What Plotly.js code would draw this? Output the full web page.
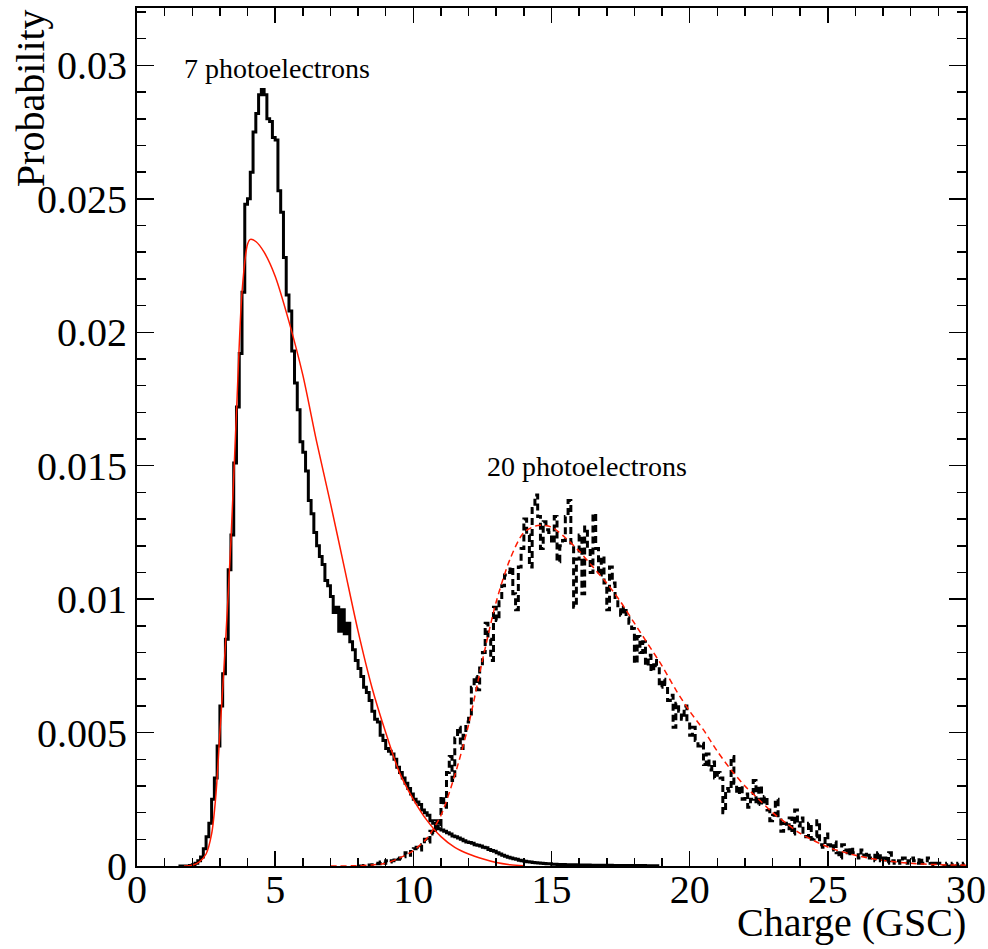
<!DOCTYPE html>
<html>
<head>
<meta charset="utf-8">
<script src="https://cdn.plot.ly/plotly-3.0.1.min.js"></script>
<style>html,body{margin:0;padding:0;background:#fff;}#chart{width:988px;height:949px;}</style>
</head>
<body>
<div id="chart"></div>
<script>
// ---------------- data ----------------
const binWidth = 0.1;

// 7 photoelectrons histogram (solid), bins of 0.1 starting at 1.5
const pe7Start = 1.5;
const pe7Values = [
  0, 0, 0, 0,
  0.00002, 0.00005, 0.0001, 0.0002, 0.00034, 0.00065, 0.0011, 0.0016, 0.0025, 0.0033,
  0.0045, 0.0060, 0.0072, 0.0085, 0.0111, 0.0124, 0.0151, 0.0172, 0.0192, 0.0215,
  0.0248, 0.0250, 0.0260, 0.0275, 0.0282, 0.0289, 0.0291, 0.0289, 0.0280, 0.0279,
  0.0273, 0.0272, 0.0253, 0.0245, 0.0228, 0.0214, 0.0208, 0.0193, 0.0181, 0.0171,
  0.0159, 0.0155, 0.0148, 0.0137, 0.0132, 0.0125, 0.0120, 0.0116, 0.0113, 0.0107,
  0.0105, 0.0101, 0.0095, 0.0097, 0.0088, 0.0096, 0.0087, 0.0091, 0.0084, 0.0081,
  0.0077, 0.0074, 0.0071, 0.0067, 0.0065, 0.0062, 0.0058, 0.0055, 0.0054, 0.0049,
  0.0047, 0.0044, 0.0043, 0.0042, 0.0040, 0.0037, 0.0035, 0.0033, 0.0031, 0.0029,
  0.0027, 0.0025, 0.0024, 0.0023, 0.0021, 0.0020, 0.0019, 0.0017, 0.0016, 0.0015,
  0.0014, 0.00135, 0.0013, 0.00125, 0.0012, 0.00112, 0.0011, 0.00105, 0.0010, 0.00095,
  0.0009, 0.00088, 0.00085, 0.0008, 0.00078, 0.00075, 0.0007, 0.00068, 0.00062, 0.00058,
  0.00055, 0.0005, 0.00045, 0.0004, 0.00037, 0.00033, 0.0003, 0.00027, 0.00025, 0.00022,
  0.0002, 0.00018, 0.00016, 0.00015, 0.00013, 0.00012, 0.00011, 0.0001, 0.00009, 0.00008,
  0.00008, 0.00007, 0.00007, 0.00006, 0.00006, 0.00006, 0.00005, 0.00005, 0.00005, 0.00005,
  0.00004, 0.00004, 0.00004, 0.00004, 0.00004, 0.00003, 0.00003, 0.00003, 0.00003, 0.00003,
  0.00003, 0.00003, 0.00003, 0.00002, 0.00002, 0.00002, 0.00002, 0.00002, 0.00002, 0.00002,
  0.00002, 0.00002, 0.00002, 0.00002, 0.00002, 0.00001, 0.00001, 0.00001, 0.00001, 0.00001
];

// 20 photoelectrons histogram (dashed), bins of 0.1 starting at 8.0
const pe20Start = 8.0;
const pe20Values = [
  0, 0, 0.00002, 0, 0.00004, 0.00005, 0.0001, 0.00008, 0.00015, 0.0001,
  0.0002, 0.00015, 0.0002, 0.0003, 0.00025, 0.0003, 0.00035, 0.0005, 0.0004, 0.0006,
  0.00065, 0.0007, 0.0006, 0.0008, 0.0010, 0.0009, 0.0013, 0.0012, 0.0017, 0.0015,
  0.0026, 0.0022, 0.0035, 0.0041, 0.0032, 0.0048, 0.0052, 0.0044, 0.0049, 0.0054,
  0.0056, 0.0067, 0.0071, 0.0066, 0.0075, 0.0080, 0.0091, 0.0085, 0.0077, 0.0097,
  0.0092, 0.0099, 0.0105, 0.0109, 0.0110, 0.0112, 0.0102, 0.0096, 0.0112, 0.0119,
  0.0130, 0.0124, 0.0112, 0.0134, 0.0139, 0.0131, 0.0119, 0.0129, 0.0126, 0.0125,
  0.0121, 0.0131, 0.0114, 0.0120, 0.0122, 0.0131, 0.0137, 0.0121, 0.0097, 0.0115,
  0.0124, 0.0102, 0.0127, 0.0119, 0.0110, 0.0132, 0.0119, 0.0109, 0.0116, 0.0106,
  0.0096, 0.0112, 0.0106, 0.0100, 0.0096, 0.0094, 0.0097, 0.0093, 0.0091, 0.0089,
  0.0076, 0.0086, 0.0080, 0.0084, 0.0075, 0.0079, 0.0073, 0.0077, 0.0075, 0.0067,
  0.0070, 0.0068, 0.0062, 0.0064, 0.0052, 0.0061, 0.0058, 0.0055, 0.0060, 0.0054,
  0.0049, 0.0052, 0.0047, 0.0045, 0.0046, 0.0038, 0.0042, 0.0036, 0.0039, 0.0033,
  0.0035, 0.0033, 0.0020, 0.0029, 0.0028, 0.0041, 0.0031, 0.0027, 0.0030, 0.0025,
  0.0027, 0.0022, 0.0025, 0.0032, 0.0023, 0.0030, 0.0023, 0.0026, 0.0021, 0.0017,
  0.0019, 0.0025, 0.0018, 0.0013, 0.0016, 0.0014, 0.0018, 0.0012, 0.0021, 0.0015,
  0.0018, 0.0012, 0.0011, 0.0016, 0.0010, 0.0011, 0.0017, 0.0008, 0.0007, 0.0012,
  0.0008, 0.0006, 0.0009, 0.0005, 0.0003, 0.0008, 0.0006, 0.0004, 0.0007, 0.0005,
  0.0005, 0.0003, 0.0006, 0.0004, 0.0005, 0.0003, 0.0004, 0.0002, 0.0005, 0.0002,
  0.0003, 0.0001, 0.0005, 0.0002, 0.0001, 0.0002, 0.0001, 0.0003, 0.0001, 0.0002,
  0.0003, 0.0002, 0.0001, 0.0003, 0.0001, 0.0001, 0.0003, 0.0001, 0.0000, 0.0001,
  0.0001, 0.0001, 0.0000, 0.0001, 0.0000, 0.0001, 0.0000, 0.0001, 0.0000, 0.0001
];

// fitted curves
const fit7X = [1.7, 2.0, 2.25, 2.5, 2.7, 2.85, 3.0, 3.2, 3.4, 3.6, 3.8, 4.0, 4.1, 4.3, 4.6, 5.0, 5.5, 6.0, 6.5, 7.0, 7.5, 8.0, 8.5, 9.0, 9.5, 10.0, 10.5, 11.0, 11.5, 12.0, 12.5, 13.0, 13.5, 14.0];
const fit7Y = [0, 0.00003, 0.00015, 0.00045, 0.0012, 0.0026, 0.0050, 0.0083, 0.0122, 0.0170, 0.0215, 0.0233, 0.02348, 0.0234, 0.0230, 0.0221, 0.0204, 0.0184, 0.0159, 0.0136, 0.0112, 0.0088, 0.0067, 0.0050, 0.0035, 0.0025, 0.0017, 0.0011, 0.0007, 0.00045, 0.00027, 0.00013, 0.00005, 0.00001];

const fit20X = [7, 8, 8.5, 9, 9.5, 10, 10.5, 11, 11.5, 12, 12.5, 13, 13.5, 14, 14.5, 15, 15.5, 16, 16.5, 17, 17.5, 18, 18.5, 19, 19.5, 20, 20.5, 21, 21.5, 22, 22.5, 23, 23.5, 24, 25, 26, 27, 28, 29, 30];
const fit20Y = [0, 0.00001, 0.00004, 0.0001, 0.0003, 0.00058, 0.00105, 0.0019, 0.0034, 0.0053, 0.0077, 0.0099, 0.0115, 0.0125, 0.01276, 0.0127, 0.0123, 0.0118, 0.0112, 0.0106, 0.0099, 0.0091, 0.0083, 0.0075, 0.0066, 0.0058, 0.0051, 0.0043, 0.0036, 0.0030, 0.0025, 0.0020, 0.0016, 0.00122, 0.00071, 0.0004, 0.00021, 0.0001, 0.00005, 0.00003];

const xTickVals = [0, 5, 10, 15, 20, 25, 30];
const yTickVals = [0, 0.005, 0.01, 0.015, 0.02, 0.025, 0.03];
const yTickText = ["0", "0.005", "0.01", "0.015", "0.02", "0.025", "0.03"];

const label7 = "7 photoelectrons";
const label20 = "20 photoelectrons";
const xTitle = "Charge (GSC)";
const yTitle = "Probability";

// ---------------- build step traces ----------------
function steps(start, vals) {
  const xs = [], ys = [];
  for (let i = 0; i < vals.length; i++) {
    xs.push(+(start + i * binWidth).toFixed(4));
    ys.push(vals[i]);
  }
  xs.push(+(start + vals.length * binWidth).toFixed(4));
  ys.push(vals[vals.length - 1]);
  return {xs, ys};
}
const h7 = steps(pe7Start, pe7Values);
const h20 = steps(pe20Start, pe20Values);

const FONT = "Liberation Serif, Times New Roman, serif";

const traces = [
  {x: h20.xs, y: h20.ys, type: 'scatter', mode: 'lines',
   line: {shape: 'hv', color: 'black', width: 3, dash: '7px,4px'}, hoverinfo: 'skip'},
  {x: h7.xs, y: h7.ys, type: 'scatter', mode: 'lines',
   line: {shape: 'hv', color: 'black', width: 3}, hoverinfo: 'skip'},
  {x: fit7X, y: fit7Y, type: 'scatter', mode: 'lines',
   line: {shape: 'spline', smoothing: 0.8, color: '#ff1a00', width: 1.5}, hoverinfo: 'skip'},
  {x: fit20X, y: fit20Y, type: 'scatter', mode: 'lines',
   line: {shape: 'spline', smoothing: 0.8, color: '#ff1a00', width: 1.5, dash: '6px,4px'}, hoverinfo: 'skip'}
];

const layout = {
  width: 988, height: 949,
  margin: {l: 137, r: 22, t: 8, b: 83, pad: 0},
  paper_bgcolor: '#fff', plot_bgcolor: '#fff',
  showlegend: false,
  font: {family: FONT, color: 'black', size: 40},
  xaxis: {
    range: [0, 30], showgrid: false, zeroline: false,
    showline: true, linecolor: 'black', linewidth: 2, mirror: 'ticks',
    ticks: 'inside', ticklen: 15, tickwidth: 1.5, tickcolor: 'black',
    tickmode: 'array', tickvals: xTickVals, ticktext: xTickVals.map(String),
    tickfont: {family: FONT, size: 40, color: 'black'},
    ticklabelstandoff: -13,
    minor: {ticks: 'inside', dtick: 1, ticklen: 8, tickwidth: 1.5, tickcolor: 'black', showgrid: false}
  },
  yaxis: {
    range: [0, 0.03215], showgrid: false, zeroline: false,
    showline: true, linecolor: 'black', linewidth: 2, mirror: 'ticks',
    ticks: 'inside', ticklen: 17, tickwidth: 1.5, tickcolor: 'black',
    tickmode: 'array', tickvals: yTickVals, ticktext: yTickText,
    tickfont: {family: FONT, size: 40, color: 'black'},
    minor: {ticks: 'inside', dtick: 0.001, ticklen: 9, tickwidth: 1.5, tickcolor: 'black', showgrid: false}
  },
  annotations: [
    {text: label7, x: 1.62, y: 0.0299, xref: 'x', yref: 'y', xanchor: 'left', yanchor: 'middle',
     showarrow: false, font: {family: FONT, size: 28, color: 'black'}},
    {text: label20, x: 12.6, y: 0.01498, xref: 'x', yref: 'y', xanchor: 'left', yanchor: 'middle',
     showarrow: false, font: {family: FONT, size: 28, color: 'black'}},
    {text: xTitle, x: 1.0024, y: -0.0653, xref: 'paper', yref: 'paper', xanchor: 'right', yanchor: 'middle',
     showarrow: false, font: {family: FONT, size: 40, color: 'black'}},
    {text: yTitle, x: -0.129, y: 0.895, xref: 'paper', yref: 'paper', xanchor: 'center', yanchor: 'middle',
     textangle: -90, showarrow: false, font: {family: FONT, size: 40, color: 'black'}}
  ]
};

Plotly.newPlot('chart', traces, layout, {staticPlot: true, displayModeBar: false});
</script>
</body>
</html>
